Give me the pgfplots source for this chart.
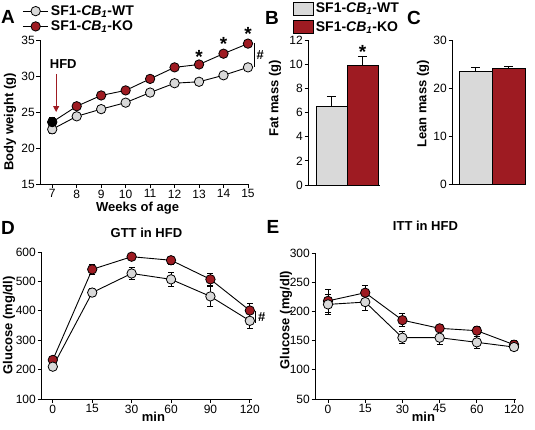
\documentclass[border=0pt]{standalone}
\usepackage{pgfplots}
\pgfplotsset{compat=1.18}
\usepackage{fontspec}
\setmainfont{Liberation Sans}
\setsansfont{Liberation Sans}
\usetikzlibrary{arrows.meta}
\definecolor{ko}{HTML}{9E1B22}
\definecolor{wt}{HTML}{D9D9D9}
\newcommand{\cbone}{\textit{CB\textsubscript{1}}}
\pgfplotsset{
  myaxis/.style={
    scale only axis,
    axis lines*=left,
    axis line style={line width=0.9pt},
    tick align=outside,
    major tick length=3.5pt,
    tick style={line width=0.9pt, black},
    tick label style={font=\fontsize{12}{14}\selectfont},
    yticklabel style={inner sep=1.5pt},
    xticklabel style={inner sep=2pt},
    label style={font=\fontsize{13}{15}\selectfont\bfseries},
    /pgf/number format/assume math mode=true,
    clip=false,
    minor tick num=0,
  },
  eb/.style={error bars/.cd, y dir=both, y explicit,
    error bar style={line width=0.9pt, black},
    error mark options={rotate=90, mark size=3pt, line width=0.9pt, black}},
  ebp/.style={error bars/.cd, y dir=plus, y explicit,
    error bar style={line width=0.9pt, black},
    error mark options={rotate=90, mark size=4.5pt, line width=0.9pt, black}},
  lwt/.style={black, line width=0.9pt, mark=*, mark size=4.7pt,
    mark options={fill=wt, draw=black, line width=0.8pt}},
  lko/.style={black, line width=0.9pt, mark=*, mark size=4.7pt,
    mark options={fill=ko, draw=black, line width=0.8pt}},
}
\newcommand{\sigstar}[2]{\node[anchor=base, font=\fontsize{19}{20}\selectfont\bfseries, inner sep=0pt] at (axis cs:#1,#2) [yshift=-10pt] {*};}
\begin{document}
\begin{tikzpicture}
\useasboundingbox (0pt,0pt) rectangle (535pt,-429pt);
% panel letters
\node[font=\fontsize{19}{20}\selectfont\bfseries] at (8pt,-17pt) {A};
\node[font=\fontsize{19}{20}\selectfont\bfseries] at (272pt,-18pt) {B};
\node[font=\fontsize{19}{20}\selectfont\bfseries] at (414pt,-18pt) {C};
\node[font=\fontsize{19}{20}\selectfont\bfseries] at (8pt,-228pt) {D};
\node[font=\fontsize{19}{20}\selectfont\bfseries] at (273pt,-227pt) {E};

% ---------------- Panel A
\begin{axis}[myaxis,
  at={(40pt,-184pt)}, anchor=south west,
  width=209.2pt, height=144pt,
  xmin=6.5, xmax=15.05, ymin=15, ymax=35,
  xtick={7,...,15}, ytick={15,20,25,30,35},
  xlabel={Weeks of age}, ylabel={Body weight (g)},
  xlabel style={at={(axis description cs:0.5,0)}, anchor=center, yshift=-24pt, xshift=-7pt},
  ylabel style={at={(axis description cs:0,0.5)}, anchor=center, yshift=30pt, xshift=-10pt},
  legend style={draw=none, fill=none, inner sep=0pt, row sep=0pt,
    at={(axis description cs:-0.085,1.255)}, anchor=north west,
    font=\fontsize{14}{15}\selectfont\bfseries, cells={anchor=west}},
  legend image code/.code={\draw[mark repeat=2,mark phase=2,#1] plot coordinates {(0cm,0cm) (0.45cm,0cm) (0.9cm,0cm)};},
]
\addplot[lwt, eb] coordinates {
 (7,22.6) +- (0,0.6) (8,24.4) +- (0,0.3) (9,25.4) +- (0,0.3) (10,26.3) +- (0,0.3)
 (11,27.7) +- (0,0.4) (12,29.0) +- (0,0.3) (13,29.2) +- (0,0.4) (14,30.1) +- (0,0.4)
 (15,31.2) +- (0,0.4)};
\addlegendentry{SF1-\cbone-WT}
\addplot[lko, eb] coordinates {
 (7,23.6) +- (0,0.7) (8,25.8) +- (0,0.3) (9,27.3) +- (0,0.3) (10,28.0) +- (0,0.3)
 (11,29.6) +- (0,0.3) (12,31.2) +- (0,0.3) (13,31.6) +- (0,0.3) (14,33.1) +- (0,0.3)
 (15,34.5) +- (0,0.4)};
\addlegendentry{SF1-\cbone-KO}
\addplot[only marks, mark=*, mark size=4.7pt, mark options={fill=black, draw=black}, forget plot] coordinates {(7,23.6)};
\sigstar{13}{33.1}
\sigstar{14}{35.0}
\sigstar{15}{36.3}
\draw[line width=0.9pt] (axis cs:15.25,34.6) -- (axis cs:15.25,31.3);
\node[font=\fontsize{13}{14}\selectfont\bfseries, anchor=west, inner sep=1pt] at (axis cs:15.3,32.95) {\#};
\node[font=\fontsize{13}{14}\selectfont\bfseries] at (axis cs:7.45,31.6) {HFD};
\draw[ko, line width=1pt, -{Triangle[length=6pt,width=6pt]}] (axis cs:7.16,30.3) -- (axis cs:7.16,25.0);
\end{axis}

% ---------------- Panel B
\begin{axis}[myaxis,
  at={(308pt,-185pt)}, anchor=south west,
  width=71.5pt, height=145pt,
  xmin=-0.758, xmax=1.55, ymin=0, ymax=12,
  xtick=\empty, ytick={0,2,...,12},
  ylabel={Fat mass (g)},
  ylabel style={at={(axis description cs:0,0.5)}, anchor=center, yshift=33pt, xshift=14pt},
  legend style={draw=none, fill=none, inner sep=0pt, row sep=3pt,
    at={(axis description cs:-0.21,1.27)}, anchor=north west,
    font=\fontsize{14}{15}\selectfont\bfseries, cells={anchor=west}},
  legend image code/.code={\draw[#1] (0cm,-0.24cm) rectangle (0.7cm,0.22cm);},
]
\addplot[ybar, bar shift=0pt, bar width=31pt, fill=wt, draw=black, line width=0.8pt, ebp] coordinates {(0,6.5) +- (0,0.8)};
\addlegendentry{SF1-\cbone-WT}
\addplot[ybar, bar shift=0pt, bar width=31pt, fill=ko, draw=black, line width=0.8pt, ebp] coordinates {(1,9.9) +- (0,0.7)};
\addlegendentry{SF1-\cbone-KO}
\sigstar{1}{11.3}
\end{axis}

% ---------------- Panel C
\begin{axis}[myaxis,
  at={(452pt,-184pt)}, anchor=south west,
  width=73pt, height=144pt,
  xmin=-0.712, xmax=1.5, ymin=0, ymax=30,
  xtick=\empty, ytick={0,10,20,30},
  ylabel={Lean mass (g)},
  ylabel style={at={(axis description cs:0,0.5)}, anchor=center, yshift=29pt, xshift=8pt},
]
\addplot[ybar, bar shift=0pt, bar width=33pt, fill=wt, draw=black, line width=0.8pt, ebp] coordinates {(0,23.5) +- (0,0.7)};
\addplot[ybar, bar shift=0pt, bar width=33pt, fill=ko, draw=black, line width=0.8pt, ebp] coordinates {(1,24.0) +- (0,0.5)};
\end{axis}

% ---------------- Panel D
\begin{axis}[myaxis,
  at={(41pt,-399pt)}, anchor=south west,
  width=210.8pt, height=147pt,
  xmin=-0.3, xmax=5.05, ymin=100, ymax=600,
  xtick={0,...,5}, xticklabels={0,15,30,60,90,120},
  ytick={100,200,...,600},
  xlabel={min}, ylabel={Glucose (mg/dl)},
  title={GTT in HFD},
  title style={at={(axis description cs:0.5,1)}, anchor=center, yshift=13pt, font=\fontsize{13}{14}\selectfont\bfseries},
  xlabel style={at={(axis description cs:0.5,0)}, anchor=center, yshift=-18pt, xshift=7pt},
  ylabel style={at={(axis description cs:0,0.5)}, anchor=center, yshift=32pt},
]
\addplot[lko, eb] coordinates {
 (0,233) +- (0,8) (1,541) +- (0,18) (2,584) +- (0,11) (3,572) +- (0,14) (4,507) +- (0,20) (5,401) +- (0,25)};
\addplot[lwt, eb] coordinates {
 (0,210) +- (0,8) (1,462) +- (0,14) (2,527) +- (0,21) (3,507) +- (0,24) (4,449) +- (0,34) (5,366) +- (0,26)};
\draw[line width=0.9pt] (axis cs:5.15,401) -- (axis cs:5.15,360);
\node[font=\fontsize{13}{14}\selectfont\bfseries, anchor=west, inner sep=1pt] at (axis cs:5.18,380) {\#};
\end{axis}

% ---------------- Panel E
\begin{axis}[myaxis,
  at={(315pt,-399pt)}, anchor=south west,
  width=200.9pt, height=146pt,
  xmin=-0.35, xmax=5.05, ymin=50, ymax=300,
  xtick={0,...,5}, xticklabels={0,15,30,45,60,120},
  ytick={50,100,...,300},
  xlabel={min}, ylabel={Glucose (mg/dl)},
  title={ITT in HFD},
  title style={at={(axis description cs:0.5,1)}, anchor=center, yshift=21pt, xshift=10pt, font=\fontsize{13}{14}\selectfont\bfseries},
  xlabel style={at={(axis description cs:0.5,0)}, anchor=center, yshift=-18pt, xshift=8pt},
  ylabel style={at={(axis description cs:0,0.5)}, anchor=center, yshift=29pt, xshift=6pt},
]
\addplot[lko, eb] coordinates {
 (0,218) +- (0,20) (1,232) +- (0,13) (2,185) +- (0,11) (3,171) +- (0,6) (4,167) +- (0,7) (5,143) +- (0,7)};
\addplot[lwt, eb] coordinates {
 (0,212) +- (0,17) (1,216) +- (0,15) (2,155) +- (0,10) (3,155) +- (0,12) (4,147) +- (0,10) (5,139) +- (0,6)};
\end{axis}
\end{tikzpicture}
\end{document}
